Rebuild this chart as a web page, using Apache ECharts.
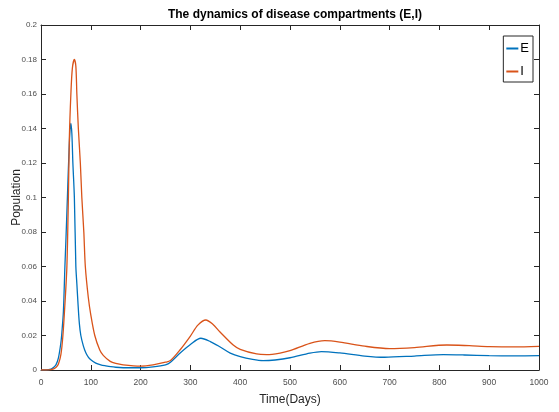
<!DOCTYPE html>
<html>
<head>
<meta charset="utf-8">
<script src="https://cdn.jsdelivr.net/npm/echarts@6/dist/echarts.min.js"></script>
<style>
  html, body { margin: 0; padding: 0; background: #fff; }
  #chart { width: 559px; height: 412px; }
</style>
</head>
<body>
<div id="chart"></div>
<script>
const eDays = [0, 10, 20, 25, 30, 35, 40, 42, 45, 48, 50, 53, 55, 58, 60, 62, 64, 67, 70, 72, 74, 77, 80, 85, 90, 95, 100, 110, 120, 130, 140, 150, 175, 200, 225, 250, 260, 280, 300, 321, 340, 359, 380, 400, 425, 446, 470, 500, 540, 563, 600, 650, 690, 750, 808, 850, 900, 950, 1000];
const eValues = [0, 0, 0.0005, 0.0015, 0.003, 0.007, 0.016, 0.022, 0.034, 0.06, 0.075, 0.1, 0.117, 0.138, 0.143, 0.137, 0.12, 0.1, 0.06, 0.05, 0.04, 0.027, 0.02, 0.014, 0.01, 0.0075, 0.006, 0.004, 0.003, 0.0024, 0.0019, 0.0016, 0.0013, 0.0013, 0.0018, 0.003, 0.0045, 0.01, 0.0148, 0.0184, 0.0165, 0.0135, 0.0098, 0.0077, 0.0061, 0.0054, 0.0058, 0.0071, 0.0098, 0.0107, 0.0099, 0.0081, 0.0074, 0.0081, 0.0089, 0.0087, 0.0083, 0.0082, 0.0083];
const iDays = [0, 10, 20, 30, 35, 40, 44, 48, 52, 55, 57, 60, 63, 67, 70, 72, 75, 79, 82, 86, 89, 95, 100, 108, 118, 125, 139, 150, 165, 200, 225, 250, 260, 279, 300, 315, 331, 345, 359, 386, 400, 433, 453, 480, 500, 540, 570, 600, 650, 700, 750, 815, 860, 900, 950, 1000];
const iValues = [0, 0, 0.0002, 0.0015, 0.0035, 0.009, 0.02, 0.038, 0.06, 0.1, 0.135, 0.16, 0.175, 0.18, 0.176, 0.16, 0.14, 0.12, 0.1, 0.08, 0.06, 0.042, 0.032, 0.02, 0.0116, 0.0085, 0.005, 0.0038, 0.003, 0.0023, 0.003, 0.0045, 0.0055, 0.0116, 0.0197, 0.026, 0.029, 0.0265, 0.0222, 0.0145, 0.012, 0.0093, 0.0089, 0.0098, 0.0112, 0.0155, 0.017, 0.0162, 0.0138, 0.0124, 0.013, 0.0145, 0.0141, 0.0136, 0.0134, 0.0137];
const xTicks = [0, 100, 200, 300, 400, 500, 600, 700, 800, 900, 1000];
const yTicks = [0, 0.02, 0.04, 0.06, 0.08, 0.1, 0.12, 0.14, 0.16, 0.18, 0.2];

const pairs = (xs, ys) => xs.map((x, i) => [x, ys[i]]);
const font = "'Liberation Sans Narrow', 'Liberation Sans', Arial, sans-serif";
const axisColor = "#262626";

const chart = echarts.init(document.getElementById("chart"));

const baseX = {
  type: "value",
  min: 0,
  max: 1000,
  interval: 100,
  splitLine: { show: false },
  axisLine: { show: true, onZero: false, lineStyle: { color: axisColor, width: 1 } },
  axisTick: { show: true, inside: true, length: 5, lineStyle: { color: axisColor } },
};
const baseY = {
  type: "value",
  min: 0,
  max: 0.2,
  interval: 0.02,
  splitLine: { show: false },
  axisLine: { show: true, onZero: false, lineStyle: { color: axisColor, width: 1 } },
  axisTick: { show: true, inside: true, length: 5, lineStyle: { color: axisColor } },
};

chart.setOption({
  animation: false,
  title: {
    text: "The dynamics of disease compartments (E,I)",
    left: 290,
    top: 4,
    textAlign: "center",
    textStyle: { fontFamily: font, fontSize: 12, fontWeight: "bold", color: "#000" },
  },
  legend: {
    orient: "vertical",
    right: 26,
    top: 36,
    padding: [6, 4, 4, 3],
    itemGap: 10,
    itemWidth: 12,
    itemHeight: 2,
    icon: "rect",
    borderColor: "#262626",
    borderWidth: 1,
    backgroundColor: "#fff",
    textStyle: { fontFamily: font, fontSize: 13, color: "#000", padding: [0, 0, 0, -3] },
    data: ["E", "I"],
  },
  grid: { left: 41, top: 25, right: 20, bottom: 42, containLabel: false, outerBoundsMode: "none" },
  xAxis: [
    {
      ...baseX,
      position: "bottom",
      name: "Time(Days)",
      nameLocation: "middle",
      nameGap: 24,
      nameMoveOverlap: false,
      nameTextStyle: { fontFamily: font, fontSize: 12, color: "#262626" },
      axisLabel: { fontFamily: font, fontSize: 8.5, color: "#4d4d4d", margin: 8, formatter: (v) => (xTicks.includes(v) ? String(v) : "") },
    },
    { ...baseX, position: "top", axisLabel: { show: false } },
  ],
  yAxis: [
    {
      ...baseY,
      position: "left",
      name: "Population",
      nameLocation: "middle",
      nameGap: 18,
      nameMoveOverlap: false,
      nameTextStyle: { fontFamily: font, fontSize: 12, color: "#262626" },
      axisLabel: { fontFamily: font, fontSize: 8, color: "#4d4d4d", margin: 4, formatter: (v) => (yTicks.some((t) => Math.abs(t - v) < 1e-9) ? String(+v.toFixed(2)) : "") },
    },
    { ...baseY, position: "right", axisLabel: { show: false } },
  ],
  series: [
    {
      name: "E",
      type: "line",
      data: pairs(eDays, eValues),
      smooth: 0.3,
      showSymbol: false,
      lineStyle: { color: "#0072BD", width: 1.3 },
      itemStyle: { color: "#0072BD" },
    },
    {
      name: "I",
      type: "line",
      data: pairs(iDays, iValues),
      smooth: 0.3,
      showSymbol: false,
      lineStyle: { color: "#D95319", width: 1.3 },
      itemStyle: { color: "#D95319" },
    },
  ],
});

window.addEventListener("resize", () => chart.resize());
</script>
</body>
</html>
